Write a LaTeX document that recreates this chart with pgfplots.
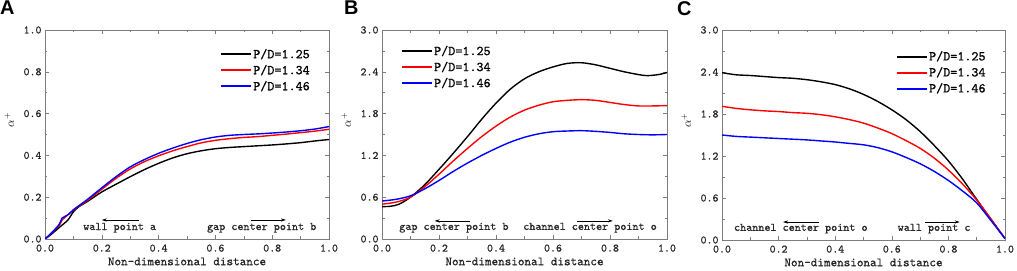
\documentclass[border=0pt]{standalone}
\usepackage{fontspec}
\setmonofont{lmmono10-regular.otf}[FakeBold=0.7]
\newfontfamily\panelfont{Liberation Sans}
\usepackage{pgfplots}
\pgfplotsset{compat=1.18}
\usetikzlibrary{arrows.meta}
\definecolor{framegray}{RGB}{125,125,125}
\definecolor{myred}{RGB}{255,0,0}
\definecolor{myblue}{RGB}{0,0,255}

\tikzset{
  ann/.style={font=\ttfamily\fontsize{11.6}{13}\selectfont, text=black!85, anchor=base west, inner sep=0pt},
  arr/.style={-{Stealth[length=5bp,width=3.2bp]}, line width=0.6pt, black},
}
\pgfplotsset{legend image code/.code={\fill[#1, draw=none] (0bp,-1bp) rectangle (30bp,1bp);}}
\pgfplotsset{
  panel/.style={
    scale only axis,
    xmin=0, xmax=1, ymin=0,
    xtick={0,0.2,0.4,0.6,0.8,1.0}, minor x tick num=1, minor y tick num=1,
    tick align=inside,
    axis line style={framegray, line width=0.7pt},
    every tick/.style={framegray, line width=0.6pt},
    major tick length=4bp, minor tick length=2.5bp,
    tick label style={font=\ttfamily\fontsize{11.4}{13}\selectfont, text=black!85},
    xticklabel style={yshift=-2bp, /pgf/number format/fixed, /pgf/number format/fixed zerofill, /pgf/number format/precision=1, /pgf/number format/assume math mode=true},
    yticklabel style={/pgf/number format/fixed, /pgf/number format/fixed zerofill, /pgf/number format/precision=1, /pgf/number format/assume math mode=true},
    xlabel={Non-dimensional distance},
    xlabel style={font=\ttfamily\fontsize{12.6}{14}\selectfont, text=black!85, yshift=1bp},
    ylabel={$\alpha^{+}$},
    every axis y label/.append style={at={(ticklabel cs:0.57)}},
    ylabel style={font=\fontsize{12}{14}\selectfont, yshift=3bp},
    legend style={draw=none, fill=none, font=\ttfamily\fontsize{13.5}{15}\selectfont, inner sep=0pt, row sep=1.2pt},
    legend cell align=left,
    every axis plot/.append style={line width=1.4pt, smooth, no markers},
  },
}

\begin{document}
\begin{tikzpicture}
\path[use as bounding box] (0,0) rectangle (1017bp,271bp);
\node[anchor=north west, inner sep=0pt, font=\panelfont\bfseries\fontsize{20}{22}\selectfont] at (0bp,270bp) {A};
\node[anchor=north west, inner sep=0pt, font=\panelfont\bfseries\fontsize{20}{22}\selectfont] at (344bp,270bp) {B};
\node[anchor=north west, inner sep=0pt, font=\panelfont\bfseries\fontsize{20}{22}\selectfont] at (677bp,270bp) {C};

% Panel A
\begin{axis}[panel, at={(45bp,32bp)}, anchor=south west, width=284bp, height=209bp,
  ymax=1, ytick={0,0.2,0.4,0.6,0.8,1.0},
  legend style={at={(0.62,0.92)}, anchor=north west}]
\addplot[black] coordinates {(0,0)(0.02,0.02)(0.05,0.055)(0.08,0.09)(0.1,0.13)(0.12,0.155)(0.15,0.18)(0.2,0.225)(0.25,0.262)(0.3,0.298)(0.35,0.332)(0.4,0.362)(0.45,0.388)(0.5,0.408)(0.55,0.422)(0.6,0.432)(0.65,0.438)(0.7,0.442)(0.75,0.446)(0.8,0.45)(0.85,0.455)(0.9,0.461)(0.95,0.469)(1.0,0.476)};
\addplot[myred] coordinates {(0,0)(0.02,0.025)(0.05,0.065)(0.06,0.09)(0.08,0.115)(0.1,0.138)(0.12,0.158)(0.15,0.185)(0.2,0.238)(0.25,0.29)(0.3,0.335)(0.35,0.37)(0.4,0.398)(0.45,0.422)(0.5,0.442)(0.55,0.46)(0.6,0.472)(0.65,0.48)(0.7,0.486)(0.75,0.49)(0.8,0.496)(0.85,0.502)(0.9,0.509)(0.95,0.516)(1.0,0.525)};
\addplot[myblue] coordinates {(0,0)(0.02,0.025)(0.05,0.07)(0.06,0.1)(0.08,0.115)(0.1,0.14)(0.12,0.16)(0.15,0.19)(0.2,0.245)(0.25,0.298)(0.3,0.345)(0.35,0.38)(0.4,0.41)(0.45,0.435)(0.5,0.457)(0.55,0.475)(0.6,0.488)(0.65,0.496)(0.7,0.5)(0.75,0.503)(0.8,0.507)(0.85,0.512)(0.9,0.518)(0.95,0.526)(1.0,0.538)};
\legend{P/D=1.25, P/D=1.34, P/D=1.46}
\node[ann] at (axis cs:0.134,0.043) {wall point a};
\draw[arr] (axis cs:0.33,0.091) -- (axis cs:0.2,0.091);
\node[ann] at (axis cs:0.57,0.043) {gap center point b};
\draw[arr] (axis cs:0.725,0.091) -- (axis cs:0.848,0.091);
\end{axis}

% Panel B
\begin{axis}[panel, at={(382bp,32bp)}, anchor=south west, width=285bp, height=209bp,
  ymax=3, ytick={0,0.6,1.2,1.8,2.4,3.0},
  legend style={at={(0.07,0.935)}, anchor=north west}]
\addplot[black] coordinates {(0,0.465)(0.03,0.47)(0.06,0.5)(0.1,0.6)(0.15,0.78)(0.2,1.0)(0.25,1.23)(0.3,1.47)(0.35,1.72)(0.4,1.95)(0.45,2.15)(0.5,2.3)(0.55,2.4)(0.6,2.47)(0.65,2.52)(0.7,2.53)(0.75,2.5)(0.8,2.45)(0.85,2.4)(0.9,2.36)(0.93,2.345)(0.97,2.36)(1.0,2.39)};
\addplot[myred] coordinates {(0,0.5)(0.05,0.53)(0.1,0.6)(0.15,0.75)(0.2,0.93)(0.25,1.12)(0.3,1.3)(0.35,1.47)(0.4,1.62)(0.45,1.75)(0.5,1.85)(0.55,1.92)(0.6,1.97)(0.65,1.99)(0.7,2.0)(0.75,1.99)(0.8,1.96)(0.85,1.93)(0.9,1.91)(0.95,1.91)(1.0,1.915)};
\addplot[myblue] coordinates {(0,0.545)(0.05,0.57)(0.1,0.62)(0.15,0.72)(0.2,0.84)(0.25,0.97)(0.3,1.09)(0.35,1.2)(0.4,1.3)(0.45,1.39)(0.5,1.46)(0.55,1.51)(0.6,1.54)(0.65,1.55)(0.7,1.555)(0.75,1.545)(0.8,1.53)(0.85,1.51)(0.9,1.5)(0.95,1.495)(1.0,1.5)};
\legend{P/D=1.25, P/D=1.34, P/D=1.46}
\node[ann] at (axis cs:0.06,0.13) {gap center point b};
\draw[arr] (axis cs:0.31,0.26) -- (axis cs:0.185,0.26);
\node[ann] at (axis cs:0.495,0.13) {channel center point o};
\draw[arr] (axis cs:0.685,0.26) -- (axis cs:0.81,0.26);
\end{axis}

% Panel C
\begin{axis}[panel, at={(722bp,31bp)}, anchor=south west, width=283bp, height=210bp,
  ymax=3, ytick={0,0.6,1.2,1.8,2.4,3.0},
  legend style={at={(0.618,0.91)}, anchor=north west}]
\addplot[black] coordinates {(0,2.39)(0.05,2.36)(0.1,2.35)(0.15,2.335)(0.2,2.32)(0.25,2.31)(0.3,2.29)(0.35,2.26)(0.4,2.22)(0.45,2.16)(0.5,2.08)(0.55,1.98)(0.6,1.86)(0.65,1.72)(0.7,1.55)(0.75,1.35)(0.8,1.13)(0.85,0.87)(0.9,0.58)(0.95,0.3)(1.0,0.02)};
\addplot[myred] coordinates {(0,1.91)(0.05,1.88)(0.1,1.86)(0.15,1.845)(0.2,1.835)(0.25,1.82)(0.3,1.81)(0.35,1.79)(0.4,1.76)(0.45,1.72)(0.5,1.67)(0.55,1.6)(0.6,1.52)(0.65,1.42)(0.7,1.31)(0.75,1.17)(0.8,1.0)(0.85,0.8)(0.9,0.57)(0.95,0.3)(1.0,0.02)};
\addplot[myblue] coordinates {(0,1.5)(0.05,1.48)(0.1,1.47)(0.15,1.46)(0.2,1.45)(0.25,1.44)(0.3,1.43)(0.35,1.415)(0.4,1.4)(0.45,1.38)(0.5,1.36)(0.55,1.32)(0.6,1.26)(0.65,1.18)(0.7,1.09)(0.75,0.98)(0.8,0.85)(0.85,0.7)(0.9,0.53)(0.95,0.28)(1.0,0.02)};
\legend{P/D=1.25, P/D=1.34, P/D=1.46}
\node[ann] at (axis cs:0.042,0.13) {channel center point o};
\draw[arr] (axis cs:0.343,0.257) -- (axis cs:0.216,0.257);
\node[ann] at (axis cs:0.62,0.13) {wall point c};
\draw[arr] (axis cs:0.717,0.257) -- (axis cs:0.84,0.257);
\end{axis}
\end{tikzpicture}
\end{document}
